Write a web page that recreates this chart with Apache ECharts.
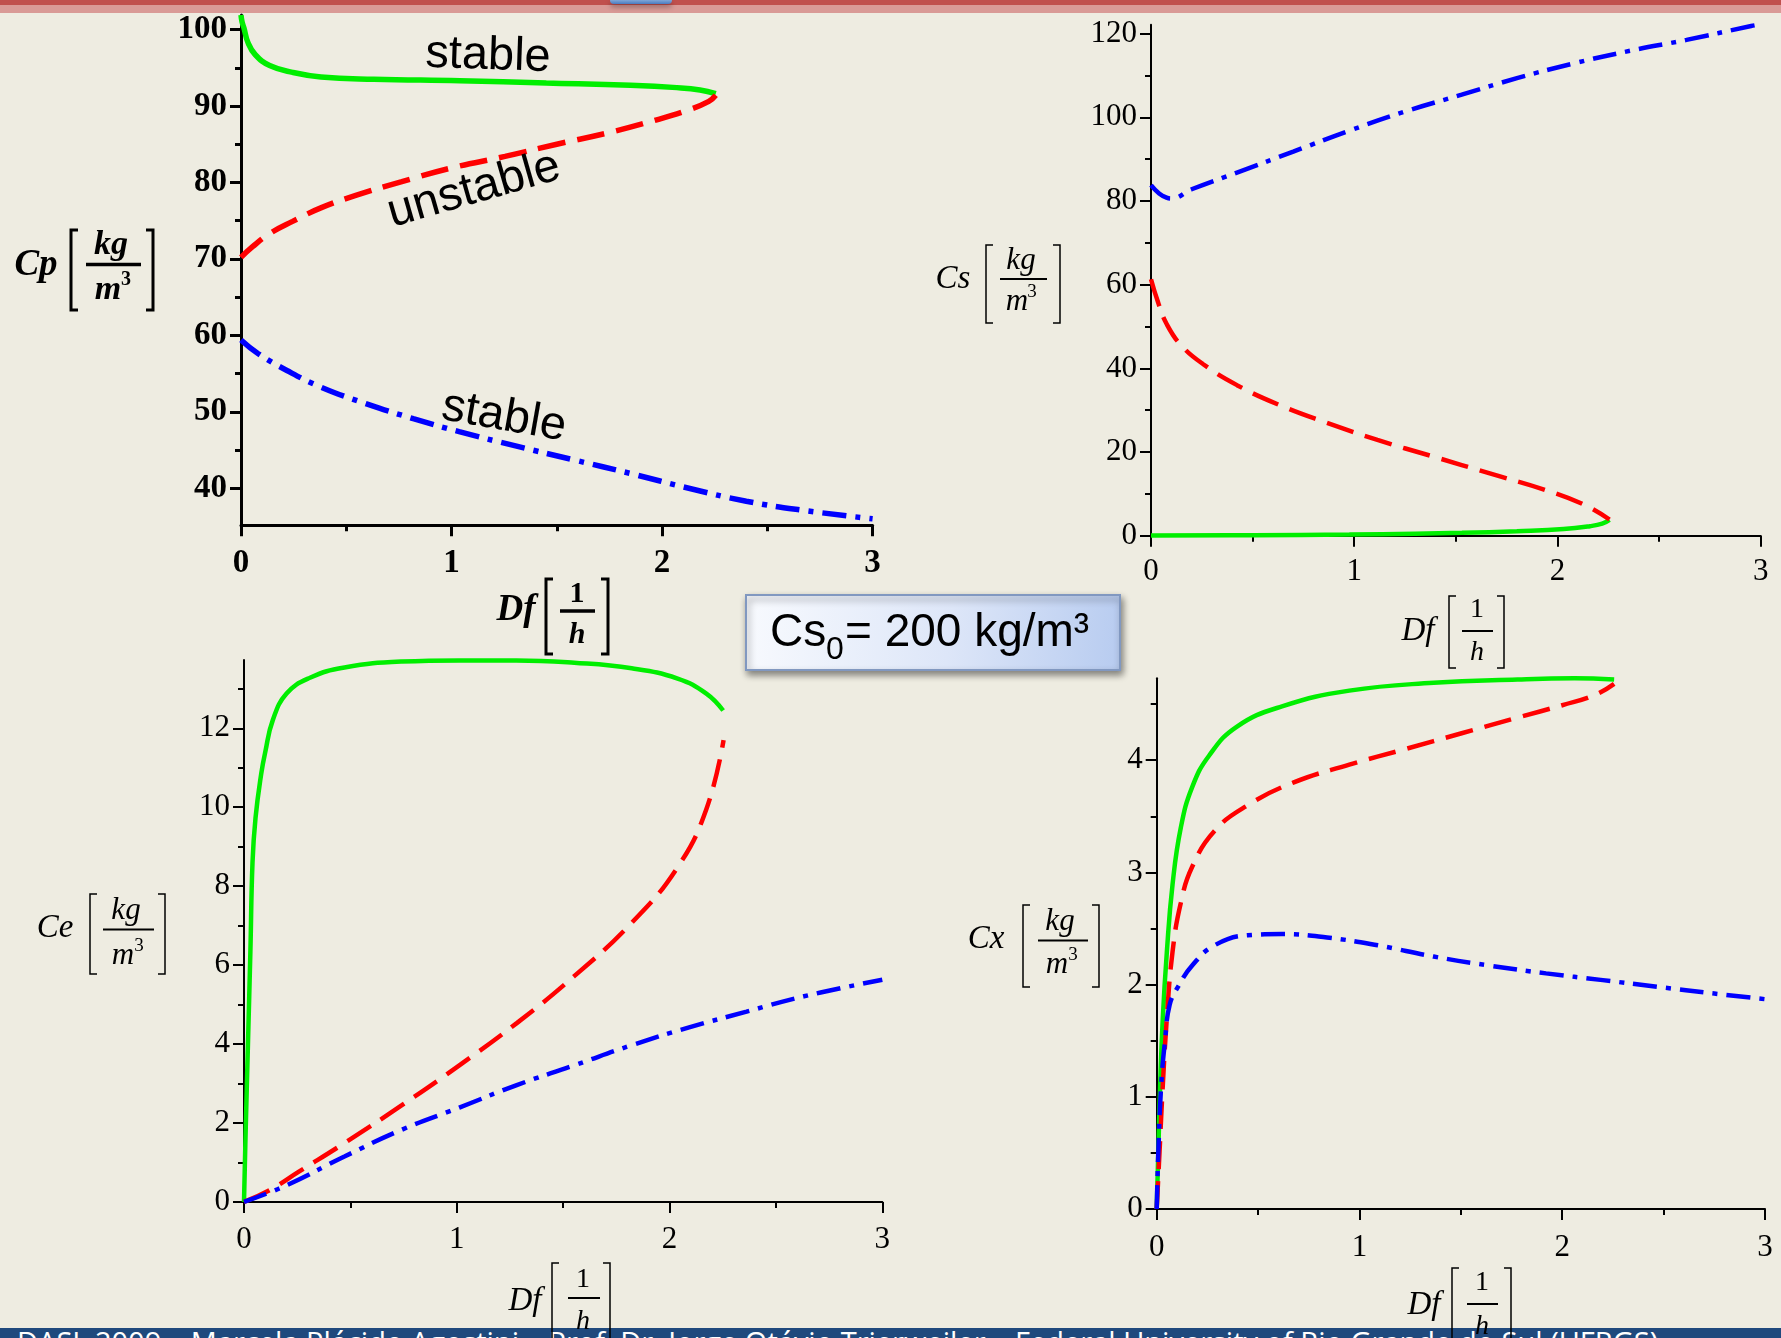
<!DOCTYPE html>
<html>
<head>
<meta charset="utf-8">
<title>Cs0 = 200 kg/m³ – steady states vs dilution rate</title>
<script src="https://cdn.jsdelivr.net/npm/echarts/dist/echarts.min.js"></script>
<style>
  html, body { margin: 0; padding: 0; }
  body { width: 1781px; height: 1338px; overflow: hidden; background: #EEECE1; position: relative; }
  #barRed  { position: absolute; left: 0; top: 0; width: 1781px; height: 5px; background: #C0504D; }
  #barPink { position: absolute; left: 0; top: 5px; width: 1781px; height: 8px; background: #D99A96; }
  #tab     { position: absolute; left: 610px; top: 0; width: 62px; height: 4px; background: linear-gradient(#7fa6d8, #4a7cbf);
             border-radius: 0 0 4px 4px; box-shadow: 0 3px 5px rgba(0,0,0,0.35); }
  #footer  { position: absolute; left: 0; top: 1328px; width: 1781px; height: 10px; background: #1F497D; overflow: hidden; }
  #footer span { position: absolute; left: 17px; top: -1px; color: #fff; font: 29px/29px "Open Sans", "Noto Sans", sans-serif; white-space: nowrap; }
  #chart   { position: absolute; left: 0; top: 0; width: 1781px; height: 1338px; z-index: 2; }
</style>
</head>
<body>
<div id="barRed"></div>
<div id="barPink"></div>
<div id="tab"></div>
<div id="footer"><span>DASL 2009 – Marcela Plácido Agostini – Prof. Dr. Jorge Otávio Trierweiler – Federal University of Rio Grande do Sul (UFRGS)</span></div>
<div id="chart"></div>
<script>
// ---- tick values ----------------------------------------------------------
const dfTicks  = [0, 1, 2, 3];
const cpLabels = [40, 50, 60, 70, 80, 90, 100];
const cpMinor  = [45, 55, 65, 75, 85, 95];
const csLabels = [0, 20, 40, 60, 80, 100, 120];
const csMinor  = [10, 30, 50, 70, 90, 110];
const ceLabels = [0, 2, 4, 6, 8, 10, 12];
const ceMinor  = [1, 3, 5, 7, 9, 11, 13];
const cxLabels = [0, 1, 2, 3, 4];
const cxMinor  = [0.5, 1.5, 2.5, 3.5, 4.5];

// ---- steady-state branches: [Df (1/h), concentration (kg/m³)] ------------
// Cp : product
const cpStableHigh = [[0,101.9],[0.005,101.0],[0.014,100.2],[0.033,98.3],[0.068,96.7],[0.136,95.3],[0.245,94.4],
  [0.38,93.8],[0.63,93.5],[1.04,93.3],[1.45,93.0],[1.85,92.7],[2.07,92.4],[2.18,92.1],[2.255,91.6]];
const cpUnstable   = [[0,70.2],[0.055,71.6],[0.136,73.3],[0.245,74.9],[0.382,76.7],[0.545,78.3],[0.764,80.1],
  [1.0,81.9],[1.254,83.4],[1.5,85.0],[1.745,86.5],[1.963,88.1],[2.127,89.5],[2.222,90.6],[2.255,91.4]];
const cpStableLow  = [[0,59.4],[0.082,57.6],[0.218,55.4],[0.382,53.2],[0.6,51.0],[0.818,49.1],[1.036,47.4],
  [1.309,45.5],[1.582,43.7],[1.854,41.9],[2.127,40.0],[2.4,38.3],[2.672,37.1],[3.0,36.0]];

// Cs : substrate
const csStableHigh = [[0,0.05],[0.5,0.15],[0.976,0.3],[1.3,0.5],[1.53,0.7],[1.8,1.1],[2.03,1.6],[2.16,2.3],
  [2.22,2.9],[2.256,3.8]];
const csUnstable   = [[0,61.3],[0.036,55.6],[0.077,50.6],[0.147,45.6],[0.257,41.0],[0.423,36.0],[0.644,31.0],
  [0.865,27.0],[1.114,22.9],[1.391,18.9],[1.667,14.9],[1.944,10.9],[2.137,7.3],[2.256,3.9]];
const csStableLow  = [[0,83.8],[0.04,81.8],[0.077,80.8],[0.1,80.6],[0.2,82.8],[0.423,86.8],[0.7,91.8],[0.976,96.8],
  [1.252,101.4],[1.529,105.4],[1.805,109.4],[2.082,112.9],[2.358,115.9],[2.635,118.5],[2.953,121.8],[3.0,122.2]];

// Ce : ethanol
const ceStableHigh = [[0,0],[0.008,1.83],[0.019,4.08],[0.03,6.34],[0.04,8.6],[0.054,9.72],[0.081,10.85],[0.1,11.4],
  [0.135,12.2],[0.2,12.88],[0.31,13.28],[0.472,13.54],[0.742,13.69],[1.012,13.72],[1.28,13.72],[1.552,13.66],
  [1.822,13.52],[2.038,13.26],[2.173,12.88],[2.252,12.45]];
const ceUnstable   = [[0,0],[0.121,0.3],[0.256,0.76],[0.472,1.49],[0.742,2.45],[1.012,3.46],[1.282,4.53],
  [1.552,5.72],[1.822,7.07],[2.038,8.48],[2.173,9.95],[2.254,11.7]];
const ceStableLow  = [[0,0],[0.2,0.42],[0.472,1.15],[0.742,1.83],[1.012,2.39],[1.282,2.96],[1.552,3.46],
  [1.822,3.97],[2.092,4.42],[2.362,4.82],[2.632,5.21],[3.0,5.63]];

// Cx : biomass
const cxStableHigh = [[0,0],[0.008,0.51],[0.017,1.1],[0.03,1.7],[0.05,2.29],[0.078,2.89],[0.119,3.4],[0.175,3.76],
  [0.258,4.04],[0.396,4.3],[0.618,4.48],[0.95,4.62],[1.366,4.69],[1.78,4.72],[2.06,4.73],[2.256,4.72]];
const cxUnstable   = [[0,0],[0.014,0.51],[0.03,1.1],[0.05,1.7],[0.078,2.29],[0.119,2.73],[0.175,3.05],[0.285,3.37],
  [0.45,3.6],[0.673,3.8],[0.95,3.96],[1.227,4.1],[1.504,4.24],[1.78,4.38],[2.0,4.49],[2.16,4.58],[2.256,4.68]];
const cxStableLow  = [[0,0],[0.008,0.51],[0.022,1.1],[0.041,1.5],[0.064,1.82],[0.105,1.98],[0.175,2.17],[0.285,2.35],
  [0.45,2.44],[0.618,2.45],[0.84,2.42],[1.09,2.35],[1.366,2.25],[1.64,2.17],[1.92,2.1],[2.2,2.04],[2.47,1.98],
  [2.75,1.92],[3.0,1.87]];

// ---- panel layout ---------------------------------------------------------
const panels = [
  { grid: {left: 241,    top: 15,    width: 631.6, height: 510.3}, yMin: 35.15, yMax: 101.9,
    labels: cpLabels, minor: cpMinor, bold: true,  fontSize: 33, axisW: 3, lineW: 5.5, xMargin: 22,
    branches: [cpStableHigh, cpUnstable, cpStableLow] },
  { grid: {left: 1151,   top: 24.8,  width: 609.7, height: 511},   yMin: 0, yMax: 122.1,
    labels: csLabels, minor: csMinor, bold: false, fontSize: 31, axisW: 2, lineW: 4.5, xMargin: 21,
    branches: [csStableHigh, csUnstable, csStableLow] },
  { grid: {left: 244,    top: 660,   width: 638.3, height: 541.9}, yMin: 0, yMax: 13.73,
    labels: ceLabels, minor: ceMinor, bold: false, fontSize: 31, axisW: 2, lineW: 4.5, xMargin: 22,
    branches: [ceStableHigh, ceUnstable, ceStableLow] },
  { grid: {left: 1156.7, top: 678.3, width: 608.3, height: 530.7}, yMin: 0, yMax: 4.73,
    labels: cxLabels, minor: cxMinor, bold: false, fontSize: 31, axisW: 2, lineW: 4.5, xMargin: 23,
    branches: [cxStableHigh, cxUnstable, cxStableLow] }
];

const branchStyles = [
  { name: 'stable (high)', color: '#00ee00', type: 'solid' },
  { name: 'unstable',      color: '#ff0000', type: [28, 12] },
  { name: 'stable (low)',  color: '#0000ff', type: [24, 9, 5, 9] }
];

const grids = [], xAxes = [], yAxes = [], series = [];
panels.forEach((p, i) => {
  grids.push(p.grid);
  const ink = { color: '#000', width: p.axisW };
  const labelFont = { color: '#000', fontFamily: '"Liberation Serif", "Times New Roman", serif',
                      fontSize: p.fontSize, fontWeight: p.bold ? 'bold' : 'normal' };
  xAxes.push({
    type: 'value', gridIndex: i, min: 0, max: 3, interval: 1,
    axisLine: { show: true, onZero: false, lineStyle: ink },
    axisTick: { show: true, length: 11, lineStyle: ink, customValues: dfTicks },
    minorTick: { show: true, splitNumber: 2, length: 6, lineStyle: ink },
    splitLine: { show: false }, minorSplitLine: { show: false },
    axisLabel: Object.assign({ margin: p.xMargin, customValues: dfTicks }, labelFont)
  });
  // main value axis: line, long ticks, labels
  yAxes.push({
    type: 'value', gridIndex: i, min: p.yMin, max: p.yMax, position: 'left',
    axisLine: { show: true, onZero: false, lineStyle: ink },
    axisTick: { show: true, length: 11, lineStyle: ink, customValues: p.labels },
    splitLine: { show: false },
    axisLabel: Object.assign({ margin: 14, customValues: p.labels }, labelFont)
  });
  // companion axis carrying the short intermediate ticks
  yAxes.push({
    type: 'value', gridIndex: i, min: p.yMin, max: p.yMax, position: 'left',
    axisLine: { show: false },
    axisTick: { show: true, length: 6, lineStyle: ink, customValues: p.minor },
    splitLine: { show: false },
    axisLabel: { show: false }
  });
  p.branches.forEach((data, k) => {
    const s = branchStyles[k];
    series.push({
      type: 'line', name: s.name, xAxisIndex: i, yAxisIndex: 2 * i, data: data,
      showSymbol: false, symbol: 'none', smooth: 0.45, silent: true,
      lineStyle: { color: s.color, width: p.lineW, type: s.type, cap: 'butt' },
      z: 3
    });
  });
});

// ---- axis titles, annotations and the parameter box ----------------------
const serif = '"Liberation Serif", "Times New Roman", serif';
const sans  = '"Liberation Sans", Arial, sans-serif';
const g = [];
function txt(x, y, s, font, extra) {
  g.push(Object.assign({ type: 'text', x: x, y: y, z: 50,
    style: { text: s, font: font, fill: '#000', align: 'center', verticalAlign: 'middle' } }, extra || {}));
}
function bracket(x, y1, y2, dir, w) {
  const s = 7 * dir;
  g.push({ type: 'polyline', z: 50, shape: { points: [[x + s, y1], [x, y1], [x, y2], [x + s, y2]] },
           style: { stroke: '#000', lineWidth: w, fill: null } });
}
function bar(x1, x2, y, w) {
  g.push({ type: 'line', z: 50, shape: { x1: x1, y1: y, x2: x2, y2: y }, style: { stroke: '#000', lineWidth: w } });
}
// "Name [ kg / m³ ]" label
function unitLabel(o) {
  const it = o.bold ? 'italic bold ' : 'italic ';
  const up = o.bold ? 'bold ' : '';
  txt(o.nameX, o.nameY, o.name, it + o.nameSize + 'px ' + serif);
  bracket(o.bl, o.top, o.bottom, 1, o.bw);
  bracket(o.br, o.top, o.bottom, -1, o.bw);
  txt(o.numX, o.numY, 'kg', it + o.fs + 'px ' + serif);
  bar(o.barX1, o.barX2, o.barY, o.bw + 0.5);
  txt(o.mX, o.denY, 'm', it + o.fs + 'px ' + serif);
  txt(o.supX, o.denY - 10, '3', up + Math.round(o.fs * 0.6) + 'px ' + serif);
}
// "Df [ 1 / h ]" label
function rateLabel(o) {
  const it = o.bold ? 'italic bold ' : 'italic ';
  const up = o.bold ? 'bold ' : '';
  txt(o.nameX, o.nameY, 'Df', it + o.nameSize + 'px ' + serif);
  bracket(o.bl, o.top, o.bottom, 1, o.bw);
  bracket(o.br, o.top, o.bottom, -1, o.bw);
  txt(o.fx, o.numY, '1', up + o.fs + 'px ' + serif);
  bar(o.barX1, o.barX2, o.barY, o.bw + 0.5);
  txt(o.fx, o.denY, 'h', it + o.fs + 'px ' + serif);
}

// top-left (bold)
unitLabel({ name: 'Cp', bold: true, nameX: 36, nameY: 265, nameSize: 37, bl: 71, br: 153, top: 230, bottom: 310, bw: 3,
            numX: 111, numY: 245, fs: 34, barX1: 86, barX2: 141, barY: 264.5, mX: 108, supX: 126, denY: 290 });
rateLabel({ bold: true, nameX: 516, nameY: 610, nameSize: 37, bl: 546, br: 608, top: 579, bottom: 654, bw: 3,
            fx: 577, numY: 594, fs: 30, barX1: 560, barX2: 595, barY: 611, denY: 635 });
// top-right
unitLabel({ name: 'Cs', bold: false, nameX: 953, nameY: 279, nameSize: 33, bl: 986, br: 1060, top: 245, bottom: 323, bw: 1.5,
            numX: 1021, numY: 261, fs: 31, barX1: 1000, barX2: 1047, barY: 279, mX: 1017, supX: 1032, denY: 302 });
rateLabel({ bold: false, nameX: 1418, nameY: 631, nameSize: 33, bl: 1449, br: 1504, top: 596, bottom: 668, bw: 1.5,
            fx: 1477, numY: 610, fs: 28, barX1: 1462, barX2: 1493, barY: 631, denY: 653 });
// bottom-left
unitLabel({ name: 'Ce', bold: false, nameX: 55, nameY: 928, nameSize: 33, bl: 90, br: 165, top: 894, bottom: 974, bw: 1.5,
            numX: 126, numY: 911, fs: 31, barX1: 103, barX2: 154, barY: 929.5, mX: 123, supX: 139, denY: 956 });
rateLabel({ bold: false, nameX: 525, nameY: 1301, nameSize: 33, bl: 552, br: 610, top: 1263, bottom: 1346, bw: 1.5,
            fx: 583, numY: 1280, fs: 28, barX1: 568, barX2: 600, barY: 1298, denY: 1322 });
// bottom-right
unitLabel({ name: 'Cx', bold: false, nameX: 986, nameY: 939, nameSize: 33, bl: 1023, br: 1099, top: 905, bottom: 987, bw: 1.5,
            numX: 1060, numY: 921.5, fs: 31, barX1: 1038, barX2: 1088, barY: 940.5, mX: 1057, supX: 1073, denY: 965 });
rateLabel({ bold: false, nameX: 1424, nameY: 1305, nameSize: 33, bl: 1452, br: 1511, top: 1268, bottom: 1346, bw: 1.5,
            fx: 1482, numY: 1283, fs: 28, barX1: 1467, barX2: 1498, barY: 1304, denY: 1327 });

// branch annotations on the Cp panel
const deg = Math.PI / 180;
txt(488, 56, 'stable',   '47px ' + sans, { rotation: -2 * deg });
txt(474, 190, 'unstable', '47px ' + sans, { rotation: 16 * deg });
txt(504, 417, 'stable',   '47px ' + sans, { rotation: -10 * deg });

// feed substrate box
g.push({ type: 'rect', z: 40, shape: { x: 746, y: 595, width: 374, height: 75 },
  style: { fill: { type: 'linear', x: 0, y: 0, x2: 1, y2: 0.5,
                   colorStops: [{ offset: 0, color: '#f8fafe' }, { offset: 0.55, color: '#dde6f8' }, { offset: 1, color: '#b8ccf0' }] },
           stroke: '#8198c0', lineWidth: 2, shadowBlur: 7, shadowColor: 'rgba(0,0,0,0.45)', shadowOffsetX: 2, shadowOffsetY: 4 } });
g.push({ type: 'text', z: 45, x: 770, y: 633, style: { text: 'Cs', font: '46px ' + sans, fill: '#000', align: 'left', verticalAlign: 'middle' } });
g.push({ type: 'text', z: 45, x: 826, y: 650, style: { text: '0', font: '32px ' + sans, fill: '#000', align: 'left', verticalAlign: 'middle' } });
g.push({ type: 'text', z: 45, x: 845, y: 633, style: { text: '= 200 kg/m³', font: '46px ' + sans, fill: '#000', align: 'left', verticalAlign: 'middle' } });

const chart = echarts.init(document.getElementById('chart'));
chart.setOption({
  animation: false,
  backgroundColor: 'transparent',
  grid: grids,
  xAxis: xAxes,
  yAxis: yAxes,
  series: series,
  graphic: g
});
</script>
</body>
</html>
